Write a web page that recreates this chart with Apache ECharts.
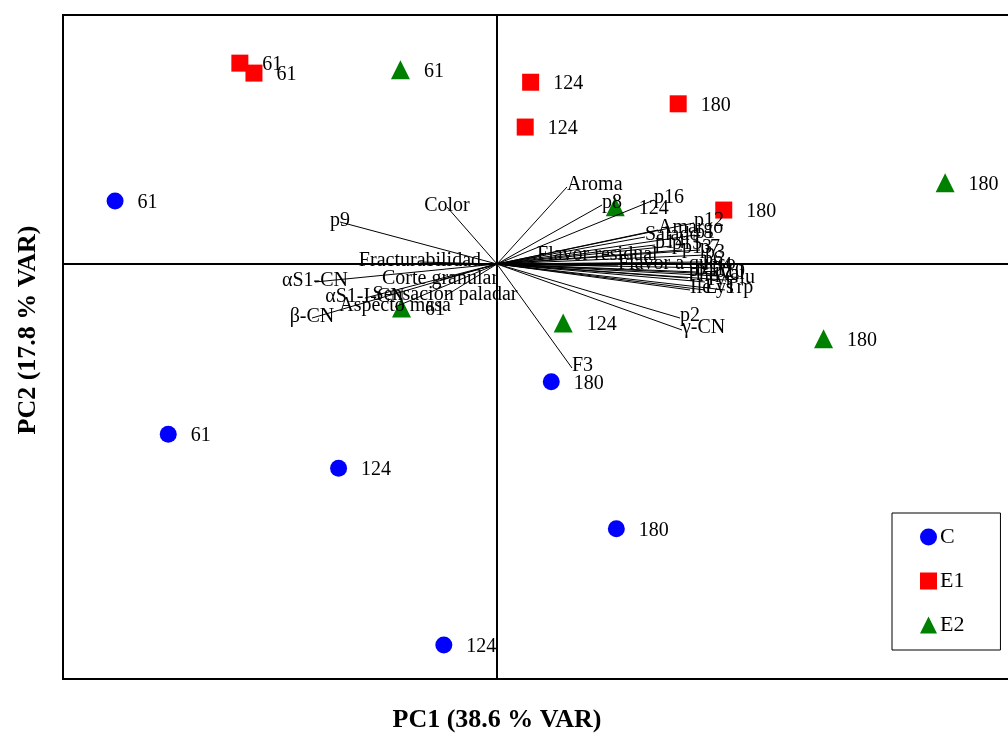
<!DOCTYPE html>
<html>
<head>
<meta charset="utf-8">
<script src="https://cdn.jsdelivr.net/npm/echarts@6/dist/echarts.min.js"></script>
<style>
  html, body { margin: 0; padding: 0; background: #fff; }
  #chart { width: 1008px; height: 736px; }
</style>
</head>
<body>
<div id="chart"></div>
<script>
// scores (PC1, PC2) por grupo, etiqueta = dias de maduracion
var cScores  = [[-3.52, 0.76], [-3.03, -2.05], [-1.46, -2.46], [-0.49, -4.59], [0.50, -1.42], [1.10, -3.19]];
var cDays    = ['61', '61', '124', '124', '180', '180'];
var e1Scores = [[-2.37, 2.42], [-2.24, 2.30], [0.31, 2.19], [0.26, 1.65], [1.67, 1.93], [2.09, 0.65]];
var e1Days   = ['61', '61', '124', '124', '180', '180'];
var e2Scores = [[-0.89, 2.34], [-0.88, -0.53], [1.09, 0.69], [0.61, -0.71], [4.13, 0.98], [3.01, -0.90]];
var e2Days   = ['61', '61', '124', '124', '180', '180'];

// loadings (vectores)
var loadNames = ['Aroma', 'Color', 'p9', 'Fracturabilidad', 'Flavor residual', 'αS1-CN', 'β-CN',
  'αS1-I-CN', 'Corte granular', 'Sensación paladar', 'Aspecto masa', 'F3', 'p2', 'γ-CN',
  'p16', 'p8', 'p12', 'Amargo', 'Salado', 'p14', 'p15', 'p1', 'p13', 'p7', 'p3', 'p6',
  'Flavor a queso', 'p4', 'p10', 'p11', 'Phe', 'Val', 'Glu', 'Tyr', 'Ile', 'Lys', 'Trp'];
var loadX = [0.645, -0.461, -1.447, -0.710, 0.369, -1.677, -1.705,
  -1.217, -0.525, -0.479, -0.940, 0.691, 1.687, 1.705,
  1.447, 0.968, 1.816, 1.484, 1.364, 1.456, 1.613, 1.825, 1.705, 1.871, 1.917, 1.899,
  1.115, 1.982, 2.009, 1.834, 1.760, 2.037, 2.101, 1.917, 1.779, 1.917, 2.101];
var loadY = [0.928, 0.687, 0.506, 0.024, 0.084, -0.217, -0.651,
  -0.410, -0.193, -0.386, -0.518, -1.253, -0.651, -0.795,
  0.771, 0.711, 0.494, 0.410, 0.325, 0.229, 0.217, 0.349, 0.169, 0.169, 0.108, 0.024,
  -0.024, -0.048, -0.120, -0.096, -0.169, -0.145, -0.193, -0.217, -0.313, -0.313, -0.313];

var serif = 'Liberation Serif';

var chart = echarts.init(document.getElementById('chart'));

function pointData(scores, days) {
  return scores.map(function (p, i) { return { value: p, name: days[i] }; });
}

var lineData = loadNames.map(function (n, i) {
  return { coords: [[0, 0], [loadX[i], loadY[i]]] };
});
var loadLabelData = loadNames.map(function (n, i) {
  return {
    name: n,
    value: [loadX[i], loadY[i]],
    label: loadX[i] > 0
      ? { position: 'right', distance: 0, offset: [0, -2] }
      : { position: 'inside', offset: [0, -1] }
  };
});

var pointLabel = {
  show: true, position: 'right', distance: 14, offset: [0, 2],
  formatter: '{b}', color: '#000', fontFamily: serif, fontSize: 20
};

var option = {
  animation: false,
  // el marco sigue mas alla del borde derecho, como en la figura original
  grid: { left: 63, top: 15, width: 960, height: 664, outerBoundsMode: 'none',
    show: true, borderColor: '#000', borderWidth: 2 },
  xAxis: {
    type: 'value', min: -4, max: 4.848,
    axisLine: { show: true, onZero: true, lineStyle: { color: '#000', width: 2 } },
    axisTick: { show: false }, axisLabel: { show: false }, splitLine: { show: false }
  },
  yAxis: {
    type: 'value', min: -5, max: 3,
    axisLine: { show: true, onZero: true, lineStyle: { color: '#000', width: 2 } },
    axisTick: { show: false }, axisLabel: { show: false }, splitLine: { show: false }
  },
  legend: {
    orient: 'vertical', left: 892, top: 513,
    backgroundColor: '#fff', borderColor: '#000', borderWidth: 1,
    padding: [13, 36, 14, 28], itemGap: 22, itemWidth: 17, itemHeight: 17,
    textStyle: { fontFamily: serif, fontSize: 22, color: '#000', padding: [0, 0, 0, -2] },
    data: ['C', 'E1', 'E2']
  },
  graphic: [
    { type: 'text', x: 497, y: 720, style: { text: 'PC1 (38.6 % VAR)', font: 'bold 26px "Liberation Serif"', fill: '#000', textAlign: 'center', textVerticalAlign: 'middle' } },
    { type: 'text', x: 28, y: 330, rotation: Math.PI / 2, style: { text: 'PC2 (17.8 % VAR)', font: 'bold 26px "Liberation Serif"', fill: '#000', textAlign: 'center', textVerticalAlign: 'middle' } }
  ],
  series: [
    { name: 'C', type: 'scatter', symbol: 'circle', symbolSize: 17, z: 2,
      itemStyle: { color: '#0000ff', opacity: 1 }, label: pointLabel, data: pointData(cScores, cDays) },
    { name: 'E1', type: 'scatter', symbol: 'rect', symbolSize: 17, z: 2,
      itemStyle: { color: '#ff0000', opacity: 1 }, label: pointLabel, data: pointData(e1Scores, e1Days) },
    { name: 'E2', type: 'scatter', symbol: 'triangle', symbolSize: 19, z: 2,
      itemStyle: { color: '#008000', opacity: 1 }, label: pointLabel, data: pointData(e2Scores, e2Days) },
    { type: 'lines', coordinateSystem: 'cartesian2d', z: 3, silent: true,
      lineStyle: { color: '#000', width: 1, opacity: 1 }, data: lineData },
    { type: 'scatter', symbolSize: 0, z: 4, silent: true,
      itemStyle: { opacity: 1 },
      label: { show: true, formatter: '{b}', color: '#000', fontFamily: serif, fontSize: 20, opacity: 1 },
      data: loadLabelData }
  ]
};

chart.setOption(option);
</script>
</body>
</html>
